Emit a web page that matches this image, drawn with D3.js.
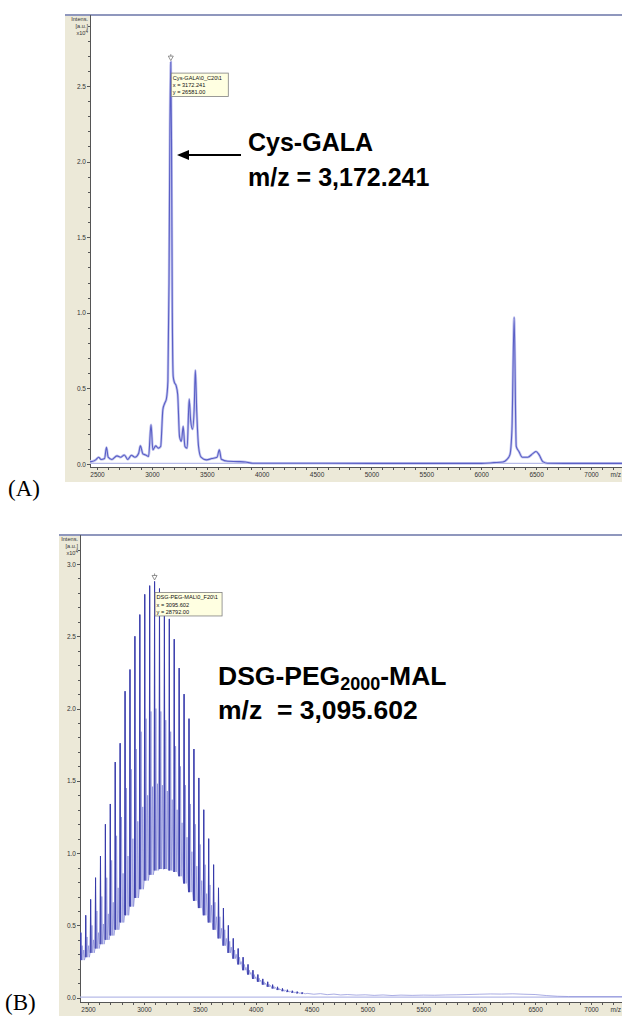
<!DOCTYPE html>
<html>
<head>
<meta charset="utf-8">
<script src="https://cdn.jsdelivr.net/npm/d3@7"></script>
<style>
  html, body { margin: 0; padding: 0; background: #fff; }
  svg { display: block; }
  .axis text { font-family: "Liberation Sans", Arial, sans-serif; font-size: 6.5px; fill: #333; }
  .axis path, .axis line { stroke: #555; shape-rendering: crispEdges; }
  .tip text { font-family: "Liberation Sans", Arial, sans-serif; font-size: 5.6px; fill: #111; }
  .note { font-family: "Liberation Sans", Arial, sans-serif; font-weight: bold; fill: #000; white-space: pre; }
  .panel-tag { font-family: "Liberation Serif", "Times New Roman", serif; fill: #000; }
</style>
</head>
<body>
<script>
// ---- tick labels ----
const xTickLabels  = [2500, 3000, 3500, 4000, 4500, 5000, 5500, 6000, 6500, 7000];
const yTickLabelsA = [0.0, 0.5, 1.0, 1.5, 2.0, 2.5];
const yTickLabelsB = [0.0, 0.5, 1.0, 1.5, 2.0, 2.5, 3.0];

// ---- spectrum A: Cys-GALA (m/z, intensity x10^4) ----
const mzA = [2430,2449,2488,2515,2537,2569,2586,2602,2635,2682,
             2716,2749,2781,2813,2846,2879,2895,2918,2943,2970,
             2992,3009,3035,3058,3080,3100,3116,3132,3146,3156,
             3164,3172.241,3179,3186,3194,3205,3220,3235,3252,3269,
             3285,3301,3321,3340,3353,3370,3386,3396,3409,3425,
             3447,3496,3545,3594,3614,3633,3692,3790,3854,3920,
             4112,5000,6000,6116,6197,6235,6261,6280,6300,6319,
             6343,6375,6424,6472,6499,6528,6561,6603,7000,7300];
const intA = [0.02,0.016,0.027,0.045,0.03,0.036,0.11,0.045,0.03,0.054,
              0.045,0.06,0.03,0.058,0.045,0.07,0.12,0.067,0.06,0.05,
              0.26,0.094,0.12,0.105,0.116,0.36,0.40,0.43,0.55,1.2,
              2.2,2.6581,2.1,1.0,0.58,0.54,0.52,0.46,0.18,0.15,
              0.25,0.116,0.105,0.43,0.29,0.23,0.38,0.62,0.34,0.116,
              0.045,0.027,0.036,0.045,0.094,0.031,0.018,0.016,0.013,0.005,
              0.005,0.004,0.004,0.009,0.013,0.031,0.06,0.23,0.97,0.116,
              0.083,0.045,0.045,0.07,0.083,0.06,0.016,0.005,0.004,0.004];

// ---- spectrum B: DSG-PEG2000-MAL oligomer series (44 Da ladder) ----
const mzB = [2435.6,2479.6,2523.6,2567.6,2611.6,2655.6,2699.6,2743.6,2787.6,2831.6,
             2875.6,2919.6,2963.6,3007.6,3051.6,3095.602,3139.6,3183.6,3227.6,3271.6,
             3315.6,3359.6,3403.6,3447.6,3491.6,3535.6,3579.6,3623.6,3667.6,3711.6,
             3755.6,3799.6,3843.6,3887.6,3931.6,3975.6,4019.6,4063.6,4107.6,4151.6,
             4195.6,4239.6,4283.6,4327.6,4371.6,4415.6];
const peakMain = [0.45,0.57,0.68,0.83,0.98,1.20,1.34,1.63,1.76,2.12,
                  2.27,2.50,2.65,2.79,2.85,2.8792,2.83,2.74,2.62,2.48,
                  2.28,2.10,1.93,1.72,1.52,1.30,1.10,0.92,0.76,0.62,
                  0.50,0.41,0.34,0.28,0.23,0.19,0.16,0.13,0.11,0.09,
                  0.075,0.064,0.055,0.048,0.042,0.037];
const peakSec  = [0.36,0.42,0.50,0.60,0.70,0.83,0.95,1.12,1.25,1.45,
                  1.58,1.72,1.84,1.93,1.98,2.00,1.98,1.92,1.84,1.74,
                  1.60,1.47,1.34,1.20,1.06,0.92,0.78,0.66,0.56,0.47,
                  0.39,0.33,0.28,0.23,0.19,0.16,0.135,0.11,0.093,0.078,
                  0.066,0.056,0.048,0.042,0.037,0.033];
const peakTer  = [0.33,0.36,0.40,0.45,0.51,0.58,0.66,0.76,0.86,0.98,
                  1.10,1.22,1.32,1.40,1.46,1.48,1.47,1.43,1.37,1.30,
                  1.21,1.11,1.01,0.91,0.81,0.72,0.64,0.56,0.48,0.41,
                  0.35,0.30,0.25,0.21,0.175,0.145,0.122,0.10,0.085,0.071,
                  0.06,0.051,0.044,0.038,0.034,0.03];
const trough   = [0.26,0.28,0.31,0.34,0.37,0.40,0.43,0.47,0.52,0.57,
                  0.63,0.69,0.75,0.81,0.85,0.88,0.89,0.89,0.88,0.87,
                  0.84,0.79,0.73,0.67,0.62,0.57,0.52,0.47,0.41,0.36,
                  0.31,0.27,0.23,0.19,0.16,0.13,0.11,0.09,0.075,0.063,
                  0.053,0.045,0.039,0.034,0.030,0.027];
const tailMzB  = [4460,4520,4580,4640,4700,4760,4820,4900,4980,5060,
                  5140,5220,5300,5400,5500,5600,5700,5800,5900,6000,
                  6100,6200,6300,6400,6500,6600,6700,6800,7300];
const tailIntB = [0.03,0.024,0.028,0.021,0.025,0.019,0.022,0.018,0.02,0.016,
                  0.019,0.015,0.018,0.016,0.018,0.017,0.019,0.02,0.022,0.024,
                  0.026,0.025,0.027,0.024,0.022,0.015,0.01,0.008,0.008];

// m/z offsets of the satellite peaks within each oligomer cluster
const clusterOffsets = { lead: -4, back: 4, sec: 12, mid: 18, ter: 26, tail: 32 };

const W = 622, H = 1016;
const svg = d3.select("body").append("svg").attr("width", W).attr("height", H);

function buildPanel(cfg) {
  const g = svg.append("g");
  const x = d3.scaleLinear().domain([2500, 7000]).range(cfg.xRange);
  const y = d3.scaleLinear().domain([0, cfg.yRef]).range(cfg.yRange);

  // beige frame and white plotting area
  g.append("rect").attr("x", cfg.frameLeft).attr("y", cfg.top)
    .attr("width", W - cfg.frameLeft).attr("height", cfg.bandBottom - cfg.top)
    .attr("fill", "#ece9d8");
  g.append("rect").attr("x", cfg.plotLeft).attr("y", cfg.top)
    .attr("width", W - cfg.plotLeft).attr("height", cfg.plotBottom - cfg.top)
    .attr("fill", "#fff");
  g.append("line").attr("x1", cfg.frameLeft).attr("x2", W)
    .attr("y1", cfg.top).attr("y2", cfg.top)
    .attr("stroke", "#8f97bd").attr("stroke-width", 2);

  const clipId = "clip-" + cfg.id;
  svg.append("clipPath").attr("id", clipId).append("rect")
    .attr("x", cfg.plotLeft).attr("y", cfg.top + 1)
    .attr("width", W - cfg.plotLeft).attr("height", cfg.plotBottom - cfg.top - 1);

  // y axis: minor ticks every 0.1, labelled ticks every 0.5
  const yTop = y.invert(cfg.top + 2);
  const yMinor = d3.range(0, yTop, 0.1);
  g.append("g").attr("class", "axis").attr("transform", `translate(${cfg.plotLeft},0)`)
    .call(d3.axisLeft(y).tickValues(yMinor).tickSize(2.5).tickSizeOuter(0).tickFormat(""))
    .call(s => s.select(".domain").remove());
  g.append("g").attr("class", "axis").attr("transform", `translate(${cfg.plotLeft},0)`)
    .call(d3.axisLeft(y).tickValues(cfg.yLabels).tickSize(3).tickPadding(1).tickSizeOuter(0)
      .tickFormat(d3.format(".1f")))
    .call(s => s.select(".domain").remove());
  g.append("line").attr("x1", cfg.plotLeft + 0.5).attr("x2", cfg.plotLeft + 0.5)
    .attr("y1", cfg.top).attr("y2", cfg.plotBottom).attr("stroke", "#555");

  // x axis: minor ticks every 100, labels every 500
  const xMinor = d3.range(2400, 7400, 100).filter(v => x(v) > cfg.plotLeft && x(v) < W);
  g.append("g").attr("class", "axis").attr("transform", `translate(0,${cfg.plotBottom})`)
    .call(d3.axisBottom(x).tickValues(xMinor).tickSize(2.5).tickSizeOuter(0).tickFormat(""))
    .call(s => s.select(".domain").remove());
  g.append("g").attr("class", "axis").attr("transform", `translate(0,${cfg.plotBottom})`)
    .call(d3.axisBottom(x).tickValues(xTickLabels).tickSize(3).tickPadding(2).tickSizeOuter(0)
      .tickFormat(d3.format("d")))
    .call(s => s.select(".domain").remove());
  g.append("line").attr("x1", cfg.plotLeft).attr("x2", W)
    .attr("y1", cfg.plotBottom + 0.5).attr("y2", cfg.plotBottom + 0.5).attr("stroke", "#555");
  g.append("text").attr("x", W - 1).attr("y", cfg.plotBottom + 10)
    .attr("text-anchor", "end")
    .attr("font-family", "Liberation Sans, Arial, sans-serif").attr("font-size", 6.5).attr("fill", "#333")
    .text("m/z");

  // intensity unit label
  const lab = g.append("g").attr("font-family", "Liberation Sans, Arial, sans-serif")
    .attr("font-size", 5.6).attr("fill", "#333").attr("text-anchor", "end");
  lab.append("text").attr("x", cfg.plotLeft - 2).attr("y", cfg.top + 6).text("Intens.");
  lab.append("text").attr("x", cfg.plotLeft - 2).attr("y", cfg.top + 13).text("[a.u.]");
  const xt = lab.append("text").attr("x", cfg.plotLeft - 2).attr("y", cfg.top + 20);
  xt.append("tspan").text("x10");
  xt.append("tspan").attr("dy", -2.5).attr("font-size", 4.6).text("4");

  // zero baseline of the trace
  g.append("line").attr("x1", cfg.plotLeft).attr("x2", W)
    .attr("y1", y(0.004)).attr("y2", y(0.004))
    .attr("stroke", "#b7bbe8").attr("stroke-width", 1.2);

  const plot = g.append("g").attr("clip-path", `url(#${clipId})`);
  return { g, plot, x, y };
}

// ---------- Panel A ----------
const A = buildPanel({
  id: "a", frameLeft: 65, top: 15, plotLeft: 90, plotBottom: 467, bandBottom: 482,
  xRange: [97, 591], yRef: 2.5, yRange: [464, 86], yLabels: yTickLabelsA
});
const ptsA = mzA.map((m, i) => [m, intA[i]]);
const lineA = d3.line().x(d => A.x(d[0])).y(d => A.y(d[1])).curve(d3.curveMonotoneX);
A.plot.append("path").attr("d", lineA(ptsA)).attr("fill", "none")
  .attr("stroke", "#c3c5ee").attr("stroke-width", 2.6);
A.plot.append("path").attr("d", lineA(ptsA)).attr("fill", "none")
  .attr("stroke", "#5a5fc6").attr("stroke-width", 1.1);

// ---------- Panel B ----------
const B = buildPanel({
  id: "b", frameLeft: 59, top: 535, plotLeft: 80, plotBottom: 1002, bandBottom: 1016,
  xRange: [88, 591], yRef: 3.0, yRange: [997.7, 564], yLabels: yTickLabelsB
});
const o = clusterOffsets;
const ptsB = [];
mzB.forEach((m, i) => {
  ptsB.push([m + o.lead, trough[i]]);
  ptsB.push([m, peakMain[i]]);
  ptsB.push([m + o.back, trough[i]]);
  ptsB.push([m + o.sec, peakSec[i]]);
  ptsB.push([m + o.mid, trough[i]]);
  ptsB.push([m + o.ter, peakTer[i]]);
  ptsB.push([m + o.tail, trough[i]]);
});
tailMzB.forEach((m, i) => ptsB.push([m, tailIntB[i]]));
const lineB = d3.line().x(d => B.x(d[0])).y(d => B.y(d[1]));
B.plot.append("path").attr("d", lineB(ptsB)).attr("fill", "none")
  .attr("stroke", "#8589d8").attr("stroke-width", 0.7);
// dominant oligomer peaks drawn darker on top
B.plot.selectAll("path.major").data(mzB).join("path").attr("class", "major")
  .attr("d", (m, i) => lineB([[m + o.lead, trough[i]], [m, peakMain[i]], [m + o.back, trough[i]]]))
  .attr("fill", "none").attr("stroke", "#3438a8").attr("stroke-width", 0.9);

// ---------- peak markers and info boxes ----------
function peakTip(P, mz, inten, lines, boxW) {
  const px = P.x(mz), py = P.y(inten);
  P.g.append("path")
    .attr("d", `M${px - 2.5},${py - 6}L${px + 2.5},${py - 6}L${px},${py - 1.5}Z`)
    .attr("fill", "#fff").attr("stroke", "#777").attr("stroke-width", 0.8);
  P.g.append("line").attr("x1", px).attr("x2", px).attr("y1", py - 6).attr("y2", py - 8)
    .attr("stroke", "#777").attr("stroke-width", 0.8);
  const t = P.g.append("g").attr("class", "tip").attr("transform", `translate(${px + 0.5},${py + 11})`);
  t.append("rect").attr("width", boxW).attr("height", 23.5)
    .attr("fill", "#ffffe1").attr("stroke", "#808080").attr("stroke-width", 0.8);
  lines.forEach((s, i) => t.append("text").attr("x", 1.5).attr("y", 6.8 + i * 7.3).text(s));
}
peakTip(A, 3172.241, 2.6581, ["Cys-GALA\\0_C20\\1", "x = 3172.241", "y = 26581.00"], 57);
peakTip(B, 3095.602, 2.8792, ["DSG-PEG-MAL\\0_F20\\1", "x = 3095.602", "y = 28792.00"], 67);

// ---------- annotations ----------
svg.append("line").attr("x1", 241).attr("x2", 186).attr("y1", 155).attr("y2", 155)
  .attr("stroke", "#000").attr("stroke-width", 2);
svg.append("path").attr("d", "M177,155L189,150L189,160Z").attr("fill", "#000");

svg.append("text").attr("class", "note").attr("x", 248).attr("y", 151)
  .attr("font-size", 25).text("Cys-GALA");
svg.append("text").attr("class", "note").attr("x", 248).attr("y", 186)
  .attr("font-size", 25).text("m/z = 3,172.241");

const tB = svg.append("text").attr("class", "note").attr("x", 218).attr("y", 685).attr("font-size", 26.5);
tB.append("tspan").text("DSG-PEG");
tB.append("tspan").attr("dy", 5).attr("font-size", 18).text("2000");
tB.append("tspan").attr("dy", -5).text("-MAL");
svg.append("text").attr("class", "note").attr("x", 218).attr("y", 719)
  .attr("font-size", 26.5).text("m/z  = 3,095.602");

svg.append("text").attr("class", "panel-tag").attr("x", 8).attr("y", 496)
  .attr("font-size", 23).text("(A)");
svg.append("text").attr("class", "panel-tag").attr("x", 5).attr("y", 1010)
  .attr("font-size", 23).text("(B)");
</script>
</body>
</html>
